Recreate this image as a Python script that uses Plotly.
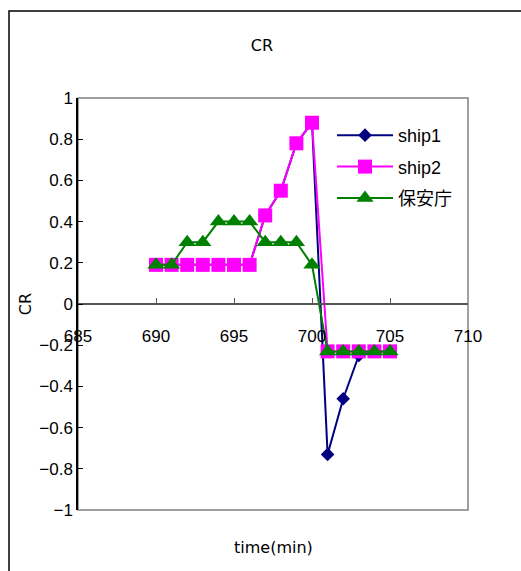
import plotly.graph_objects as go

time = [690, 691, 692, 693, 694, 695, 696, 697, 698, 699, 700, 701, 702, 703, 704, 705]
ship1 = [0.19, 0.19, 0.19, 0.19, 0.19, 0.19, 0.19, 0.43, 0.55, 0.78, 0.88, -0.73, -0.46, -0.25, -0.23, -0.23]
ship2 = [0.19, 0.19, 0.19, 0.19, 0.19, 0.19, 0.19, 0.43, 0.55, 0.78, 0.88, -0.23, -0.23, -0.23, -0.23, -0.23]
hoan = [0.19, 0.19, 0.30, 0.30, 0.40, 0.40, 0.40, 0.30, 0.30, 0.30, 0.19, -0.23, -0.23, -0.23, -0.23, -0.23]
names = ["ship1", "ship2", "保安庁"]
x_ticks = [685, 690, 695, 700, 705, 710]

FONT = "Liberation Sans, Noto Sans CJK JP, sans-serif"
TFONT = "DejaVu Sans, Noto Sans CJK JP, sans-serif"

fig = go.Figure()
fig.add_trace(go.Scatter(x=time, y=ship1, name=names[0], mode="lines+markers", legendgroup="a",
                         line=dict(color="#000080", width=2),
                         marker=dict(symbol="diamond", size=10.5, color="#000080", line=dict(width=0))))
fig.add_trace(go.Scatter(x=time, y=ship2, name=names[1], mode="lines+markers", legendgroup="b",
                         line=dict(color="#FF00FF", width=2),
                         marker=dict(symbol="square", size=14, color="#FF00FF", line=dict(width=0))))
fig.add_trace(go.Scatter(x=time, y=hoan, name=names[2], mode="lines+markers", legendgroup="c",
                         line=dict(color="#008000", width=2),
                         marker=dict(symbol="triangle-up", size=15, color="#008000", line=dict(width=0))))

L, R, T, B = 78, 468, 98, 510
W, H = 521, 571
pw, ph = R - L, B - T

def px(x):
    return (x - L) / pw

def py(y):
    return (B - y) / ph

shapes = [
    dict(type="rect", xref="paper", yref="paper", x0=0, x1=1, y0=0, y1=1,
         line=dict(color="#808080", width=1.5), layer="below"),
    dict(type="rect", xref="paper", yref="paper", x0=px(9), x1=px(540), y0=py(590), y1=py(11),
         line=dict(color="#000000", width=1.5), layer="below"),
]

fig.update_layout(
    width=W, height=H,
    margin=dict(l=L, r=W - R, t=T, b=H - B, autoexpand=False),
    paper_bgcolor="white", plot_bgcolor="white",
    font=dict(family=FONT, color="black", size=16),
    title=dict(text="CR", x=262 / W, xanchor="center", y=1 - 45 / H, yanchor="middle",
               font=dict(family=TFONT, size=16)),
    showlegend=True,
    legend=dict(x=px(332), y=py(117), xanchor="left", yanchor="top",
                bgcolor="rgba(0,0,0,0)", font=dict(size=18), tracegroupgap=5,
                itemwidth=56),
    xaxis=dict(range=[685, 710], tickvals=x_ticks, ticktext=[str(v) for v in x_ticks],
               anchor="free", position=0.5, showline=True, linecolor="#555555", linewidth=1.5,
               ticks="inside", ticklen=5, tickcolor="#555555", showgrid=False, zeroline=False,
               tickfont=dict(size=17), ticklabelstandoff=17, automargin=False),
    yaxis=dict(range=[-1, 1], dtick=0.2, showline=True, linecolor="#000000", linewidth=1.5,
               ticks="inside", ticklen=5, tickcolor="#000000", showgrid=False, zeroline=False,
               tickfont=dict(size=17), automargin=False,
               title=dict(text="CR", font=dict(family=TFONT, size=16), standoff=4)),
    shapes=shapes,
    annotations=[dict(text="time(min)", xref="paper", yref="paper", x=px(273), y=py(547),
                      showarrow=False, font=dict(family=TFONT, size=16),
                      xanchor="center", yanchor="middle")],
)

fig.write_html("out.html", config={"displayModeBar": False},
               post_script="document.body.style.margin='0';")
